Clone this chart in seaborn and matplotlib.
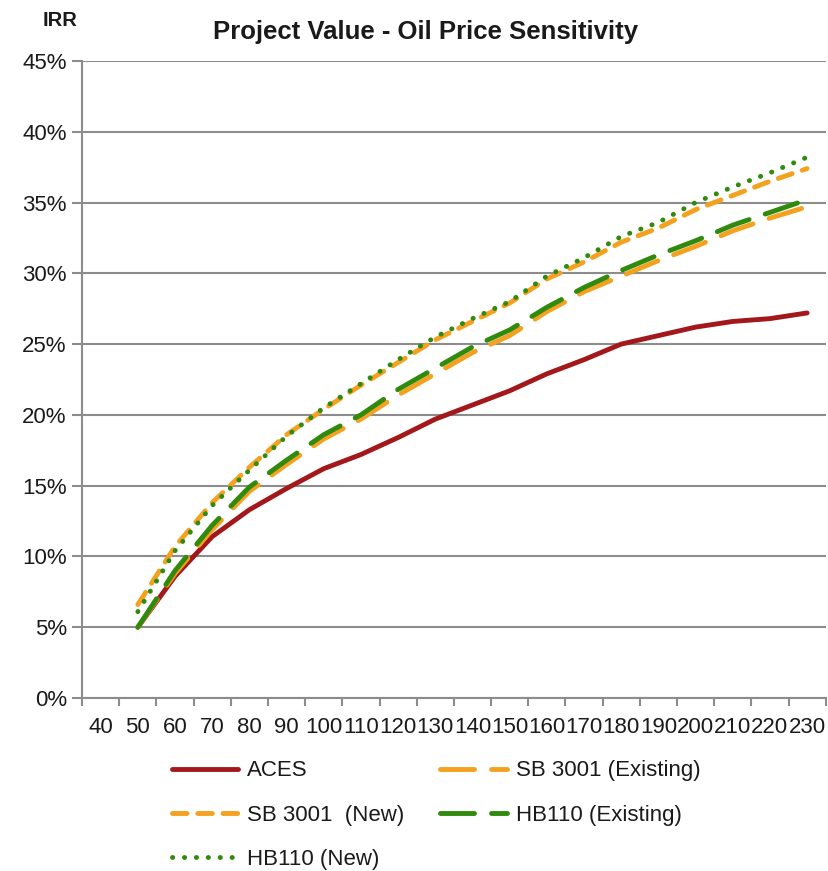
"""Project Value - Oil Price Sensitivity: IRR vs oil price for five fiscal cases."""

import matplotlib.pyplot as plt
import numpy as np
import pandas as pd
import seaborn as sns
from matplotlib.ticker import FixedLocator, PercentFormatter

# category axis (40 has no data point)
categories = [str(v) for v in range(40, 240, 10)]
oil_price = [50, 60, 70, 80, 90, 100, 110, 120, 130, 140, 150,
             160, 170, 180, 190, 200, 210, 220, 230]

aces = [5.0, 8.6, 11.4, 13.3, 14.8, 16.2, 17.2, 18.4, 19.7, 20.7, 21.7,
        22.9, 23.9, 25.0, 25.6, 26.2, 26.6, 26.8, 27.2]
sb_existing = [5.0, 8.8, 11.9, 14.6, 16.5, 18.3, 19.7, 21.4, 22.9, 24.4, 25.6,
               27.3, 28.7, 29.8, 30.9, 31.9, 33.0, 33.9, 34.7]
sb_new = [6.6, 10.7, 13.8, 16.3, 18.6, 20.4, 22.1, 23.7, 25.3, 26.6, 27.9,
          29.6, 30.8, 32.2, 33.2, 34.5, 35.5, 36.5, 37.4]
hb_existing = [5.0, 9.0, 12.2, 14.9, 16.8, 18.6, 20.0, 21.8, 23.3, 24.8, 26.0,
               27.6, 29.0, 30.2, 31.3, 32.3, 33.4, 34.3, 35.2]
hb_new = [6.1, 10.4, 13.6, 16.1, 18.5, 20.5, 22.2, 23.9, 25.5, 26.8, 28.0,
          29.8, 31.1, 32.6, 33.6, 35.0, 36.1, 37.1, 38.2]

series = {
    "ACES": aces,
    "SB 3001 (Existing)": sb_existing,
    "SB 3001  (New)": sb_new,
    "HB110 (Existing)": hb_existing,
    "HB110 (New)": hb_new,
}

sns.set_style("white")
plt.rcParams["font.family"] = ["Liberation Sans", "DejaVu Sans"]
text_color = "#1a1a1a"

rows = []
for name, vals in series.items():
    for p, v in zip(oil_price, vals):
        rows.append({"case": name, "pos": categories.index(str(p)), "irr": v})
df = pd.DataFrame(rows)

palette = {
    "ACES": "#a3181b",
    "SB 3001 (Existing)": "#f4a11f",
    "SB 3001  (New)": "#f4a11f",
    "HB110 (Existing)": "#2f8a0e",
    "HB110 (New)": "#2f8a0e",
}
dashes = {
    "ACES": "",
    "SB 3001 (Existing)": (7, 3.5),
    "SB 3001  (New)": (3, 2.2),
    "HB110 (Existing)": (7, 3.5),
    "HB110 (New)": (0.05, 2.4),
}

fig = plt.figure(figsize=(8.29, 8.71), dpi=100)
ax = fig.add_axes([0.099, 0.1986, 0.897, 0.7314])

sns.lineplot(
    data=df,
    x="pos",
    y="irr",
    hue="case",
    style="case",
    hue_order=list(series),
    style_order=list(series),
    palette=palette,
    dashes=dashes,
    linewidth=3.5,
    dash_capstyle="round",
    solid_capstyle="round",
    ax=ax,
)

ax.set_xlim(-0.5, len(categories) - 0.5)
ax.set_ylim(0, 45)

# category labels at centers, tick marks at the boundaries
ax.set_xticks(np.arange(len(categories)))
ax.set_xticklabels(categories, fontsize=16, color=text_color)
ax.xaxis.set_minor_locator(FixedLocator(np.arange(len(categories) + 1) - 0.5))
ax.tick_params(axis="x", which="major", length=0, pad=14)
ax.tick_params(axis="x", which="minor", length=6, width=1.5, color="#8c8c8c",
               direction="out", bottom=True)

ax.set_yticks(np.arange(0, 50, 5))
ax.yaxis.set_major_formatter(PercentFormatter(decimals=0))
ax.tick_params(axis="y", length=7, width=1.5, color="#8c8c8c", direction="out",
               labelsize=16, labelcolor=text_color, pad=4, left=True)

ax.grid(axis="y", color="#8c8c8c", linewidth=1.5)
ax.set_axisbelow(True)
for side in ["top", "right"]:
    ax.spines[side].set_visible(False)
for side in ["left", "bottom"]:
    ax.spines[side].set_color("#8c8c8c")
    ax.spines[side].set_linewidth(1.5)

ax.set_xlabel("")
ax.set_ylabel("")

fig.text(0.513, 0.963, "Project Value - Oil Price Sensitivity", ha="center",
         va="center", fontsize=18.5, fontweight="bold", color=text_color)
fig.text(0.072, 0.976, "IRR", ha="center", va="center", fontsize=14.5,
         fontweight="bold", color=text_color)

# legend filled row by row
handles, labels = ax.get_legend_handles_labels()
order = [0, 2, 4, 1, 3]
ax.legend(
    [handles[i] for i in order],
    [labels[i] for i in order],
    loc="upper left",
    bbox_to_anchor=(0.183, 0.150),
    bbox_transform=fig.transFigure,
    ncol=2,
    frameon=False,
    fontsize=16,
    handlelength=3.0,
    handletextpad=0.4,
    columnspacing=1.6,
    labelspacing=1.05,
    labelcolor=text_color,
)

fig.savefig("out.png", dpi=100)
print("Saved out.png")
